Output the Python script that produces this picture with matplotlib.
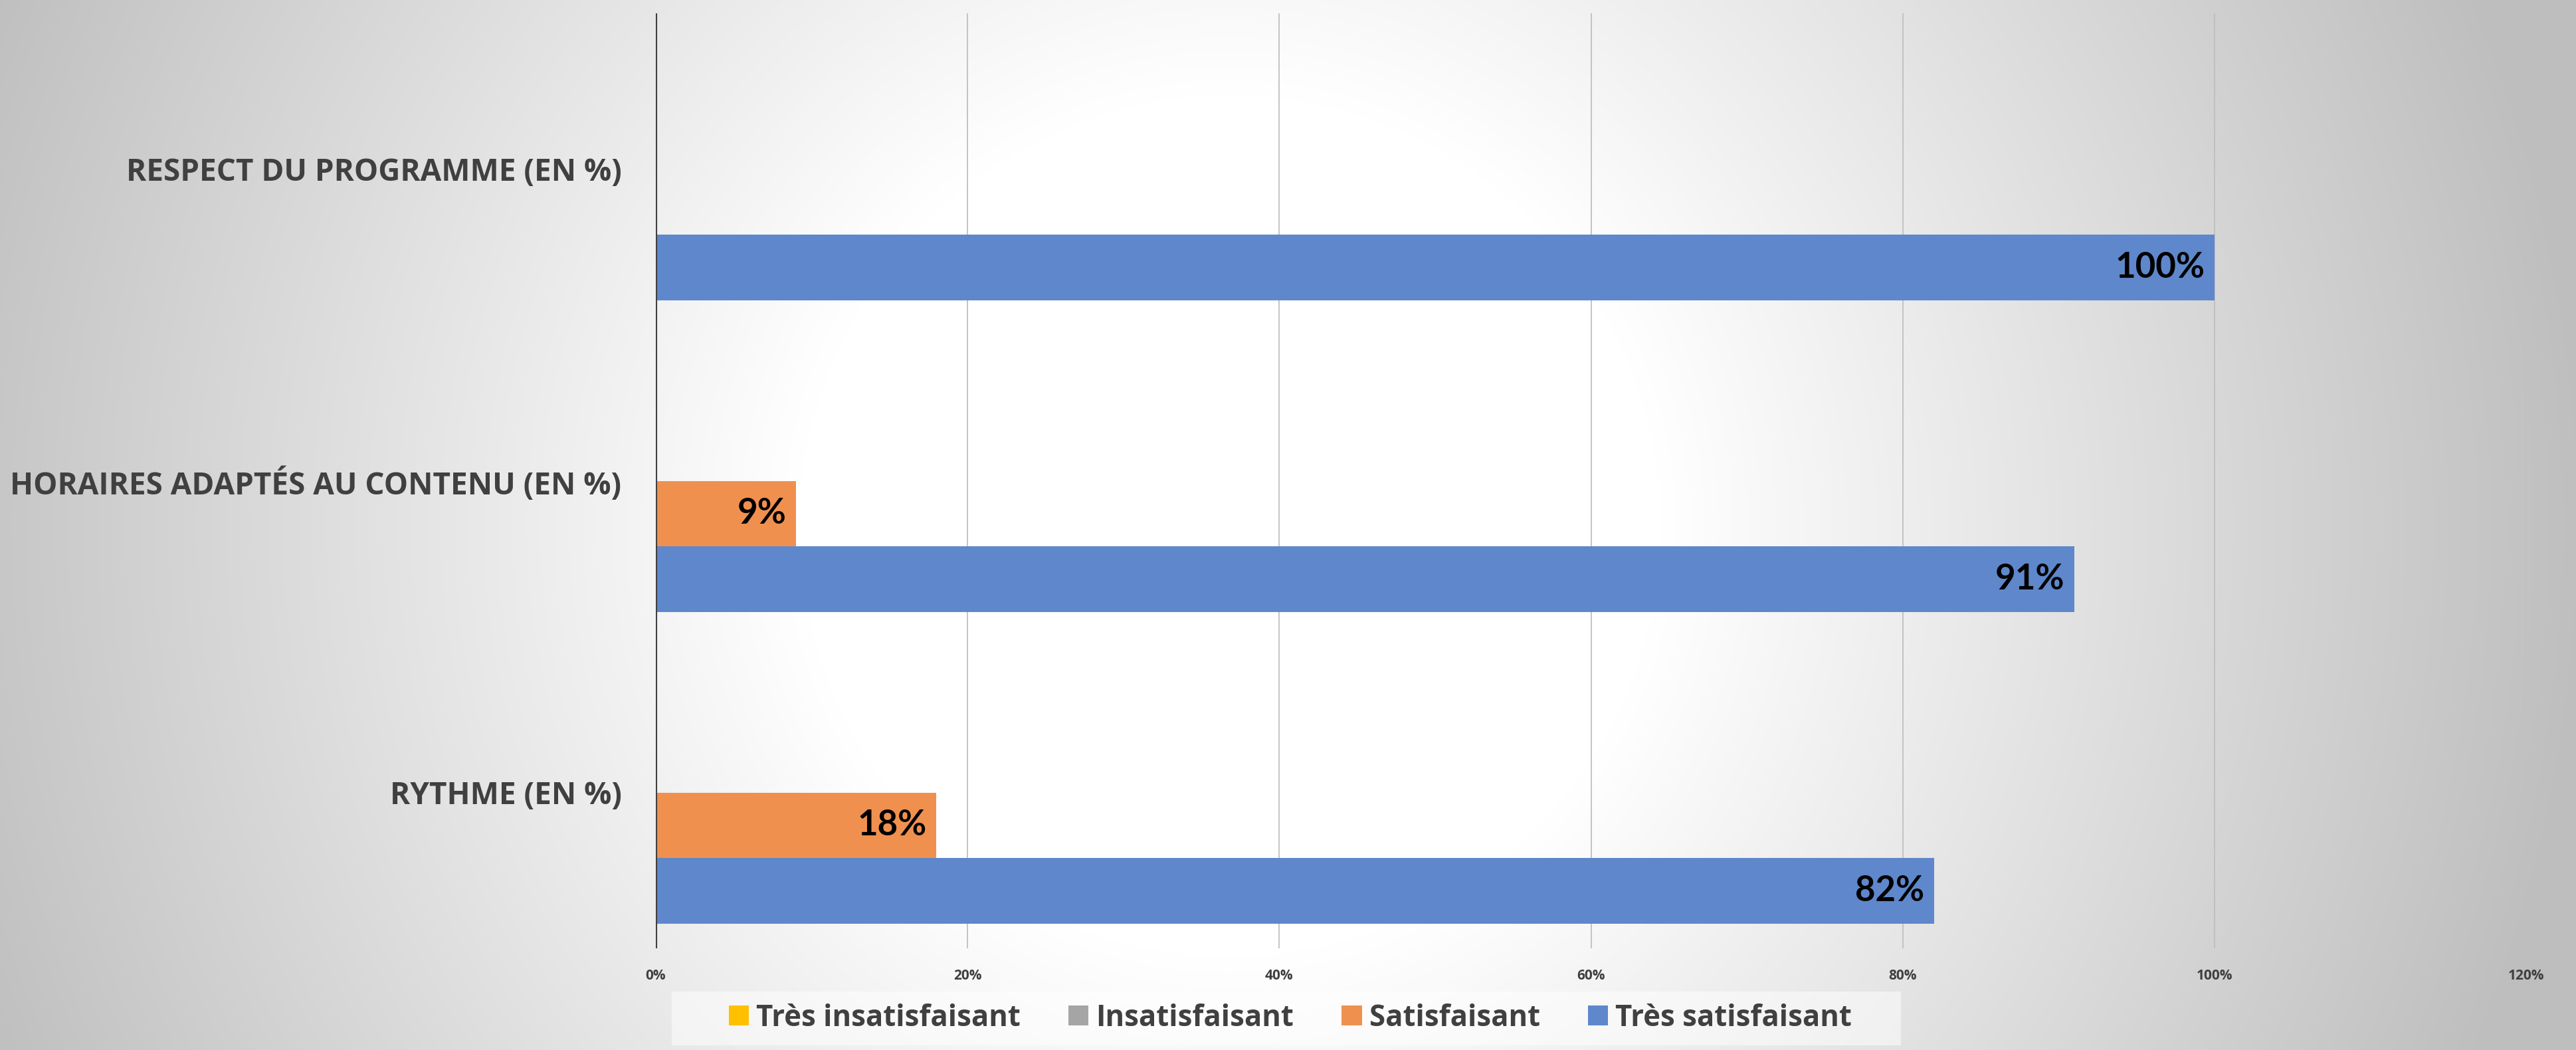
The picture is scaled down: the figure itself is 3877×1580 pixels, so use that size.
import matplotlib.pyplot as plt
import numpy as np
from matplotlib.ticker import FuncFormatter
from matplotlib.patches import Rectangle

# Data (percent)
categories = ['RYTHME (EN %)', 'HORAIRES ADAPTÉS AU CONTENU (EN %)', 'RESPECT DU PROGRAMME (EN %)']
series_names = ['Très insatisfaisant', 'Insatisfaisant', 'Satisfaisant', 'Très satisfaisant']
tres_insatisfaisant = [0, 0, 0]
insatisfaisant = [0, 0, 0]
satisfaisant = [18, 9, 0]
tres_satisfaisant = [82, 91, 100]
x_ticks = [0, 20, 40, 60, 80, 100, 120]

colors = ['#FFC000', '#A5A5A5', '#F0904F', '#5F87CB']
series = [tres_insatisfaisant, insatisfaisant, satisfaisant, tres_satisfaisant]

W, H = 3877, 1580
fig = plt.figure(figsize=(W / 100, H / 100), dpi=100)

# radial grey background
bg = fig.add_axes([0, 0, 1, 1], zorder=-10)
yy, xx = np.mgrid[0:H:4, 0:W:4]
r = np.hypot(xx - 1850, yy - 790)
t = np.clip((r - 650) / (2050 - 650), 0, 1)
g = (255 - 65 * t) / 255.0
bg.imshow(np.dstack([g, g, g]), extent=[0, W, H, 0], aspect='auto', interpolation='bilinear')
bg.set_xlim(0, W)
bg.set_ylim(H, 0)
# legend background box
bg.add_patch(Rectangle((1011, 1492), 1850, 81, facecolor='white', alpha=0.5, edgecolor='none'))
bg.set_axis_off()

ax = fig.add_axes([987 / W, 1 - 1427 / H, (3802 - 987) / W, (1427 - 20) / H])
ax.patch.set_alpha(0)

h = 0.211
offsets = [1.5 * h, 0.5 * h, -0.5 * h, -1.5 * h]
y = np.arange(len(categories))
for vals, name, col, off in zip(series, series_names, colors, offsets):
    bars = ax.barh(y + off, vals, height=h, color=col, label=name, zorder=3)
    for b, v in zip(bars, vals):
        if v > 0:
            ax.text(b.get_width() - 0.6, b.get_y() + b.get_height() / 2, f'{v}%',
                    ha='right', va='center', fontsize=38, fontweight='bold',
                    family='Lato', color='black', zorder=4)

ax.set_xlim(0, 120)
ax.set_ylim(-0.5, 2.5)
ax.set_xticks(x_ticks)
ax.xaxis.set_major_formatter(FuncFormatter(lambda v, p: f'{int(v)}%'))
ax.set_yticks(y)
ax.set_yticklabels(categories, fontsize=33, fontweight='bold', family='Open Sans', color='#404040')
for lab in ax.get_xticklabels():
    lab.set_fontsize(15)
    lab.set_fontweight('bold')
    lab.set_family('Open Sans')
    lab.set_color('#404040')
ax.tick_params(axis='both', length=0)
ax.tick_params(axis='y', pad=37)
ax.tick_params(axis='x', pad=22)
ax.grid(axis='x', color='#BFBFBF', linewidth=1.3, zorder=0)
ax.axvline(0, color='#404040', linewidth=3, zorder=5)
for s in ax.spines.values():
    s.set_visible(False)

leg = fig.legend(loc='center', bbox_to_anchor=(1942 / W, 1 - 1532 / H), ncol=4, frameon=False,
                 prop={'family': 'Open Sans', 'weight': 'bold', 'size': 31.5},
                 handlelength=0.69, handleheight=0.69, handletextpad=0.25,
                 columnspacing=1.65, borderpad=0.0)
for txt in leg.get_texts():
    txt.set_color('#404040')

fig.savefig('out.png', dpi=100)
